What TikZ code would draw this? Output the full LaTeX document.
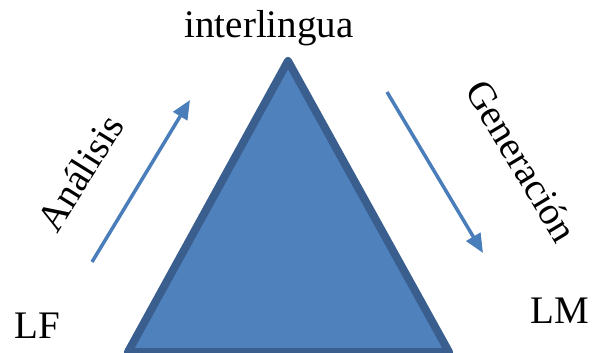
\documentclass[tikz,border=0pt]{standalone}
\usepackage{fontspec}
\setmainfont{Liberation Serif}
\usetikzlibrary{arrows.meta}
\definecolor{triFill}{HTML}{4F81BD}
\definecolor{triLine}{HTML}{3A5F8E}
\definecolor{arrowBlue}{HTML}{4A7EBB}
\tikzset{
  lbl/.style={inner sep=0pt, font=\fontsize{39}{39}\selectfont},
  flow/.style={draw=arrowBlue, line width=3.5pt, -{Triangle[length=19pt,width=16pt]}},
  tri/.style={fill=triFill, draw=triLine, line width=8pt, line join=round}
}
\begin{document}
\begin{tikzpicture}[x=1pt,y=-1pt]
\useasboundingbox (0,0) rectangle (592,353);
\clip (0,0) rectangle (592,353);
\coordinate (apex) at (288,61);
\coordinate (bl) at (128,352);
\coordinate (br) at (449,352);
\draw[tri] (apex) -- (br) -- (bl) -- cycle;
\node[lbl, anchor=base] (inter) at (269,38) {interlingua};
\node[lbl, anchor=base west] (lf) at (14,338) {LF};
\node[lbl, anchor=base west] (lm) at (530,323) {LM};
\node[lbl, rotate=58] (ana) at (80,173) {Análisis};
\node[lbl, rotate=-59] (gen) at (522,161) {Generación};
\coordinate (a1) at (92,262);
\coordinate (a2) at (190,100);
\coordinate (g1) at (387,92);
\coordinate (g2) at (483,253);
\draw[flow] (a1) -- (a2);
\draw[flow] (g1) -- (g2);
\end{tikzpicture}
\end{document}
